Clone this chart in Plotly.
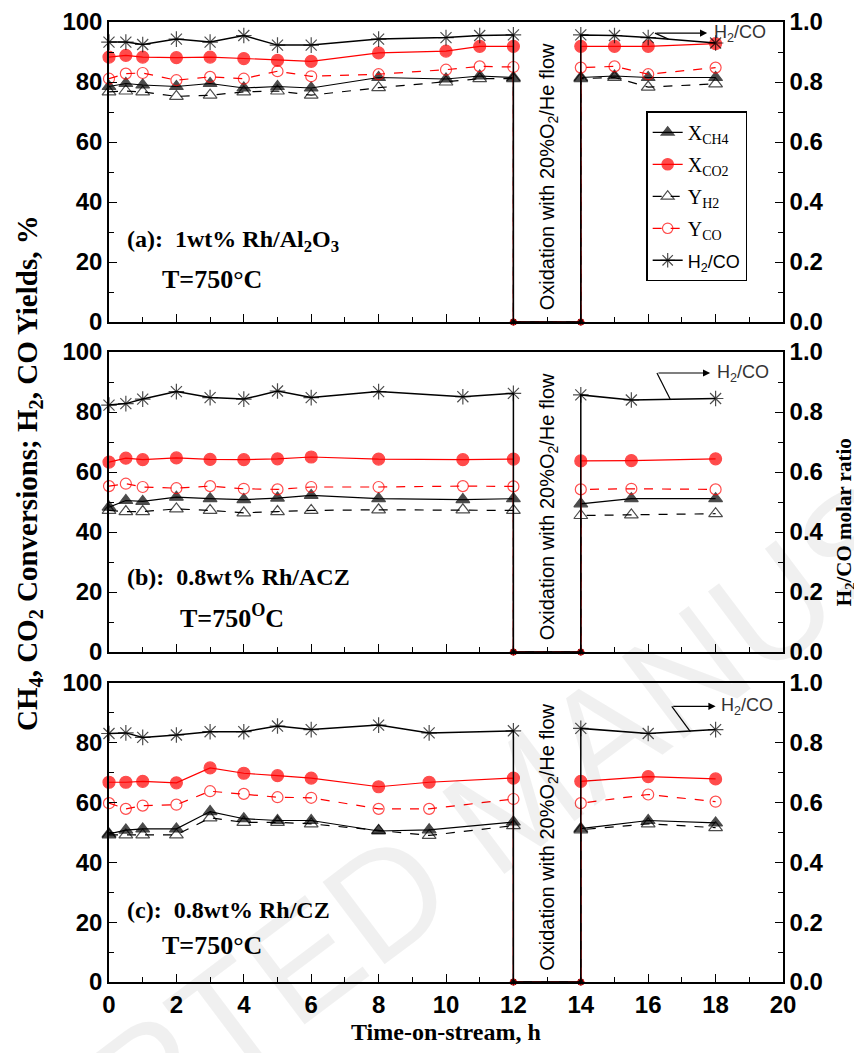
import plotly.graph_objects as go

# ---------------- data ----------------
# Panel (a): 1wt% Rh/Al2O3
A_PRE_X = [0, 0.5, 1, 2, 3, 4, 5, 6, 8, 10, 11, 12]
A_POST_X = [14, 15, 16, 18]
A_XCH4_PRE = [78.5, 79.5, 79, 78.5, 79.5, 78, 78.5, 78, 81.5, 81, 82, 81.5]
A_XCH4_POST = [81.5, 82, 81.5, 81.5]
A_XCO2_PRE = [88.3, 88.9, 88.3, 88.1, 88.3, 87.8, 87.2, 86.9, 89.7, 90.3, 91.9, 91.9]
A_XCO2_POST = [91.9, 91.9, 91.9, 92.8]
A_YH2_PRE = [76.7, 77, 76.7, 75.2, 75.6, 76.7, 77, 75.6, 78.1, 80, 81.1, 81.1]
A_YH2_POST = [81.1, 81.5, 78.3, 79.4]
A_YCO_PRE = [81.1, 82.8, 83, 80.6, 81.7, 81.1, 83.6, 81.9, 82.6, 84.1, 85.2, 85]
A_YCO_POST = [84.8, 85.2, 82.6, 84.8]
A_RATIO_PRE = [0.933, 0.933, 0.925, 0.943, 0.933, 0.955, 0.923, 0.923, 0.943, 0.948, 0.955, 0.957]
A_RATIO_POST = [0.957, 0.955, 0.948, 0.93]

# Panel (b): 0.8wt% Rh/ACZ
B_PRE_X = [0, 0.5, 1, 2, 3, 4, 5, 6, 8, 10.5, 12]
B_POST_X = [14, 15.5, 18]
B_XCH4_PRE = [48.3, 50.5, 50.2, 51.6, 51.1, 50.8, 51.3, 52.2, 51.1, 50.8, 51.1]
B_XCH4_POST = [49.4, 51.1, 51.1]
B_XCO2_PRE = [63.3, 64.6, 64.1, 64.7, 64.2, 64.1, 64.4, 65, 64.3, 64.1, 64.3]
B_XCO2_POST = [63.7, 63.8, 64.4]
B_YH2_PRE = [47.2, 46.8, 46.8, 47.7, 47.2, 46.4, 46.8, 47.2, 47.4, 47.4, 47.2]
B_YH2_POST = [45.5, 45.7, 46.1]
B_YCO_PRE = [55.3, 56.1, 55, 54.6, 55.3, 54.4, 54.2, 55, 55, 55.3, 55.2]
B_YCO_POST = [54.2, 54.4, 54.2]
B_RATIO_PRE = [0.823, 0.828, 0.843, 0.868, 0.848, 0.843, 0.87, 0.848, 0.868, 0.851, 0.862]
B_RATIO_POST = [0.857, 0.84, 0.845]

# Panel (c): 0.8wt% Rh/CZ
C_PRE_X = [0, 0.5, 1, 2, 3, 4, 5, 6, 8, 9.5, 12]
C_POST_X = [14, 16, 18]
C_XCH4_PRE = [49.5, 50.8, 51.2, 51.2, 57, 54.6, 54, 54, 50.5, 50.9, 53.5]
C_XCH4_POST = [51.3, 54, 53.2]
C_XCO2_PRE = [66.8, 66.8, 67.1, 66.6, 71.6, 69.8, 69, 68.2, 65.3, 66.8, 68.2]
C_XCO2_POST = [67.1, 68.7, 67.9]
C_YH2_PRE = [49.2, 49.2, 49.2, 49.2, 54.9, 53.4, 53.4, 52.9, 50.7, 49, 52.3]
C_YH2_POST = [50.9, 52.9, 51.6]
C_YCO_PRE = [59.8, 57.9, 59, 59.3, 63.8, 62.9, 61.8, 61.6, 57.9, 57.9, 61.2]
C_YCO_POST = [59.8, 62.7, 60.3]
C_RATIO_PRE = [0.831, 0.833, 0.818, 0.826, 0.837, 0.837, 0.856, 0.844, 0.859, 0.833, 0.84]
C_RATIO_POST = [0.848, 0.831, 0.844]

# oxidation interval (feed switched off -> zero)
OXID_X = [12, 14]
OXID_Y = [0, 0]

X_TICKS = [0, 2, 4, 6, 8, 10, 12, 14, 16, 18, 20]

SERIES_NAMES = ["X<sub>CH4</sub>", "X<sub>CO2</sub>", "Y<sub>H2</sub>", "Y<sub>CO</sub>",
                "<span style='font-family:Liberation Sans;font-size:18px'>H<sub>2</sub>/CO</span>"]

PANELS = [
    dict(pre_x=A_PRE_X, post_x=A_POST_X,
         series=[(A_XCH4_PRE, A_XCH4_POST), (A_XCO2_PRE, A_XCO2_POST), (A_YH2_PRE, A_YH2_POST),
                 (A_YCO_PRE, A_YCO_POST), (A_RATIO_PRE, A_RATIO_POST)],
         title="(a):  1wt% Rh/Al<sub>2</sub>O<sub>3</sub>", temp="T=750°C"),
    dict(pre_x=B_PRE_X, post_x=B_POST_X,
         series=[(B_XCH4_PRE, B_XCH4_POST), (B_XCO2_PRE, B_XCO2_POST), (B_YH2_PRE, B_YH2_POST),
                 (B_YCO_PRE, B_YCO_POST), (B_RATIO_PRE, B_RATIO_POST)],
         title="(b):  0.8wt% Rh/ACZ", temp="T=750<sup>O</sup>C"),
    dict(pre_x=C_PRE_X, post_x=C_POST_X,
         series=[(C_XCH4_PRE, C_XCH4_POST), (C_XCO2_PRE, C_XCO2_POST), (C_YH2_PRE, C_YH2_POST),
                 (C_YCO_PRE, C_YCO_POST), (C_RATIO_PRE, C_RATIO_POST)],
         title="(c):  0.8wt% Rh/CZ", temp="T=750°C"),
]

# ---------------- styles ----------------
STYLES = [
    dict(color="black", dash="solid", symbol="triangle-up", mcolor="black", size=12, width=1.2),
    dict(color="#ff0000", dash="solid", symbol="circle", mcolor="#ff0000", size=12, width=1.2),
    dict(color="black", dash="dash", symbol="triangle-up-open", mcolor="black", size=12, width=1.2),
    dict(color="#ff0000", dash="dash", symbol="circle-open", mcolor="#ff0000", size=11, width=1.2),
    dict(color="black", dash="solid", symbol="asterisk-open", mcolor="black", size=13, width=1.5),
]
OXID_MARKER_SIZE = 6

DOMAINS = [[0.6875, 1.0], [0.34375, 0.65625], [0.0, 0.3115]]

TICKFONT = dict(family="Liberation Sans Narrow, Liberation Sans, Arial", size=24, color="black", weight="bold")
SERIF = "Liberation Serif, Times New Roman, serif"

fig = go.Figure()

for p, panel in enumerate(PANELS):
    xa = "x" if p == 0 else f"x{p + 1}"
    yl = "y" if p == 0 else f"y{2 * p + 1}"
    yr = f"y{2 * p + 2}"
    xs = panel["pre_x"] + OXID_X + panel["post_x"]
    for k, (pre, post) in enumerate(panel["series"]):
        st = STYLES[k]
        ys = pre + OXID_Y + post
        sizes = [st["size"]] * len(pre) + [OXID_MARKER_SIZE] * len(OXID_X) + [st["size"]] * len(post)
        fig.add_trace(go.Scatter(
            x=xs, y=ys, mode="lines+markers", name=SERIES_NAMES[k],
            xaxis=xa, yaxis=(yr if k == 4 else yl),
            line=dict(color=st["color"], width=st["width"], dash=st["dash"]),
            marker=dict(symbol=st["symbol"], size=sizes, color=st["mcolor"],
                        line=dict(color=st["mcolor"], width=1.2)),
            showlegend=(p == 0), legendgroup=f"g{k}", cliponaxis=False,
        ))

# the page body adds an 8px offset, so the figure is 8px smaller than the window
layout = dict(
    width=854, height=1045,
    margin=dict(l=101, r=79, t=14, b=71, autoexpand=False),
    paper_bgcolor="white", plot_bgcolor="white",
    showlegend=True,
    legend=dict(x=0.797, y=0.907, xanchor="left", yanchor="top",
                bgcolor="white", bordercolor="black", borderwidth=1.5,
                font=dict(family=SERIF, size=20, color="black"),
                tracegroupgap=3, itemwidth=30),
)

annotations = []
shapes = []
for p, panel in enumerate(PANELS):
    xk = "xaxis" if p == 0 else f"xaxis{p + 1}"
    ylk = "yaxis" if p == 0 else f"yaxis{2 * p + 1}"
    yrk = f"yaxis{2 * p + 2}"
    yl = "y" if p == 0 else f"y{2 * p + 1}"
    xa = "x" if p == 0 else f"x{p + 1}"
    layout[xk] = dict(
        domain=[0, 1], anchor=yl, range=[0, 20], tickvals=X_TICKS,
        ticks="inside", ticklen=8, tickwidth=1.2, tickcolor="black",
        minor=dict(dtick=1, ticks="inside", ticklen=5, tickwidth=1.2, tickcolor="black"),
        showline=True, linecolor="black", linewidth=1.5, mirror=True,
        showgrid=False, zeroline=False, showticklabels=(p == 2),
        tickfont=TICKFONT, automargin=False, ticklabeloverflow="allow",
    )
    layout[ylk] = dict(
        domain=DOMAINS[p], anchor=xa, range=[0, 100], dtick=20,
        ticks="inside", ticklen=8, tickwidth=1.2, tickcolor="black",
        minor=dict(dtick=10, ticks="inside", ticklen=5, tickwidth=1.2, tickcolor="black"),
        showline=True, linecolor="black", linewidth=1.5,
        showgrid=False, zeroline=False, tickfont=TICKFONT, automargin=False,
        ticklabeloverflow="allow",
    )
    layout[yrk] = dict(
        overlaying=yl, side="right", anchor=xa, range=[0, 1], dtick=0.2, tickformat=".1f",
        ticks="inside", ticklen=8, tickwidth=1.2, tickcolor="black",
        minor=dict(dtick=0.1, ticks="inside", ticklen=5, tickwidth=1.2, tickcolor="black"),
        showline=True, linecolor="black", linewidth=1.5,
        showgrid=False, zeroline=False, tickfont=TICKFONT, automargin=False,
        ticklabeloverflow="allow",
    )
    # panel labels
    title_y = [27, 25, 24][p]
    temp_y = [14.3, 11.7, 12.3][p]
    temp_x = [1.5, 2.05, 1.5][p]
    annotations.append(dict(x=0.47, y=title_y, xref=xa, yref=yl, text=panel["title"],
                            showarrow=False, xanchor="left", yanchor="middle",
                            font=dict(family=SERIF, size=24, color="black", weight="bold")))
    annotations.append(dict(x=temp_x, y=temp_y, xref=xa, yref=yl, text=panel["temp"],
                            showarrow=False, xanchor="left", yanchor="middle",
                            font=dict(family=SERIF, size=26, color="black", weight="bold")))
    # oxidation label
    annotations.append(dict(x=13.05, y=48.5, xref=xa, yref=yl, text="Oxidation with 20%O<sub>2</sub>/He flow",
                            showarrow=False, textangle=-90, xanchor="center", yanchor="middle",
                            font=dict(family="Liberation Sans, Arial", size=20, color="black")))
    # H2/CO pointer
    arr = [dict(x0=16.2, x1=17.75, y=96.3, dx=16.6, dy=94.3, lx=17.9),
           dict(x0=16.26, x1=17.84, y=93.0, dx=16.65, dy=84.3, lx=17.98),
           dict(x0=16.7, x1=18.0, y=92.2, dx=17.25, dy=83.7, lx=18.1)][p]
    annotations.append(dict(x=arr["x1"], y=arr["y"], ax=arr["x0"], ay=arr["y"], xref=xa, yref=yl,
                            axref=xa, ayref=yl, text="", showarrow=True, arrowhead=2,
                            arrowsize=1.2, arrowwidth=1.2, arrowcolor="black"))
    shapes.append(dict(type="line", xref=xa, yref=yl, x0=arr["x0"], y0=arr["y"], x1=arr["dx"], y1=arr["dy"],
                       line=dict(color="black", width=1.2)))
    annotations.append(dict(x=arr["lx"], y=arr["y"], xref=xa, yref=yl, text="H<sub>2</sub>/CO",
                            showarrow=False, xanchor="left", yanchor="middle",
                            font=dict(family="Liberation Sans, Arial", size=18, color="#333333")))

# axis titles
annotations.append(dict(x=-0.119, y=0.53, xref="paper", yref="paper",
                        text="CH<sub>4</sub>, CO<sub>2</sub> Conversions; H<sub>2</sub>, CO Yields, %",
                        showarrow=False, textangle=-90, xanchor="center", yanchor="middle",
                        font=dict(family=SERIF, size=29, color="black", weight="bold")))
annotations.append(dict(x=1.092, y=0.479, xref="paper", yref="paper",
                        text="H<sub>2</sub>/CO molar ratio",
                        showarrow=False, textangle=-90, xanchor="center", yanchor="middle",
                        font=dict(family=SERIF, size=21, color="black", weight="bold")))
annotations.append(dict(x=0.5, y=-0.052, xref="paper", yref="paper", text="Time-on-stream, h",
                        showarrow=False, xanchor="center", yanchor="middle",
                        font=dict(family=SERIF, size=24, color="black", weight="bold")))
# watermark
annotations.append(dict(x=0.604, y=0.19, xref="paper", yref="paper", text="ACCEPTED MANUSCRIPT",
                        showarrow=False, textangle=-37, xanchor="center", yanchor="middle",
                        font=dict(family="Liberation Sans, Arial", size=150, color="rgba(0,0,0,0.06)")))

layout["annotations"] = annotations
layout["shapes"] = shapes
fig.update_layout(**layout)
fig.write_html("out.html")
